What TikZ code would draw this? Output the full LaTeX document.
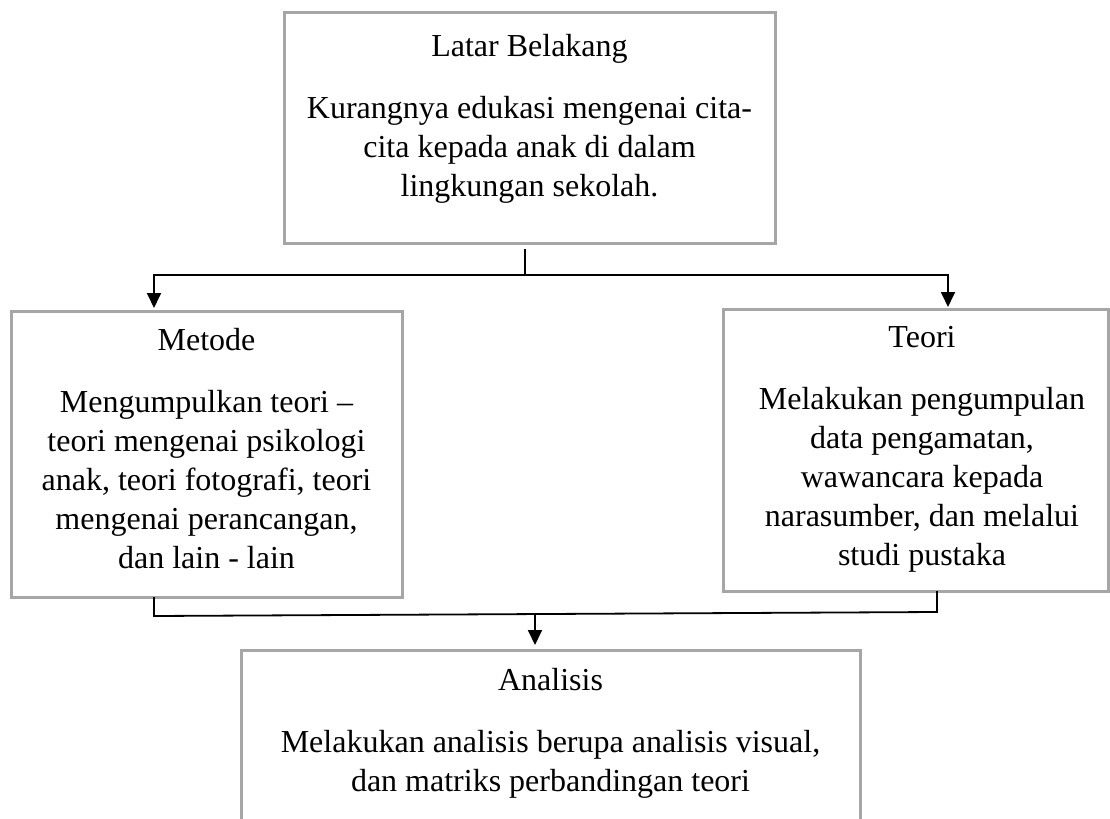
\documentclass[tikz,border=0pt]{standalone}
\usepackage{fontspec}
\setmainfont{Liberation Serif}
\usetikzlibrary{arrows.meta,calc,positioning}
\definecolor{boxgray}{HTML}{A6A6A6}
\tikzstyle{box} =[draw=boxgray, line width=1.5pt,
                  inner sep=0pt, outer sep=0pt]
\tikzstyle{txt} =[inner sep=0pt, align=center,
                  font=\fontsize{16pt}{19.5pt}\selectfont]
\tikzstyle{link}=[line width=0.9pt]
\tikzstyle{conn}=[link, -{Triangle[length=7.5pt,width=7pt]}]

\begin{document}
\begin{tikzpicture}[x=0.5pt, y=-0.5pt]
    \clip (0,0) rectangle (1110,819);
    % boxes
    \node[box, minimum width=245.5pt, minimum height=115.5pt] (latar)    at (529.5,127.5) {};
    \node[box, minimum width=195.5pt, minimum height=143pt]   (metode)   at (206.5,454) {};
    \node[box, minimum width=192.5pt, minimum height=141pt]   (teori)    at (915.5,450) {};
    \node[box, minimum width=309.5pt, minimum height=115pt]   (analisis) at (550.5,765) {};

    % texts
    \node[txt, below=11pt of latar.north] (latarText)
        {Latar Belakang\\[11.5pt]
         Kurangnya edukasi mengenai cita-\\
         cita kepada anak di dalam\\
         lingkungan sekolah.};
    \node[txt, below=8.5pt of metode.north] (metodeText)
        {Metode\\[11.5pt]
         Mengumpulkan teori –\\
         teori mengenai psikologi\\
         anak, teori fotografi, teori\\
         mengenai perancangan,\\
         dan lain - lain};
    \node[txt, below=8.5pt of teori.north, xshift=3.25pt] (teoriText)
        {Teori\\[11.5pt]
         Melakukan pengumpulan\\
         data pengamatan,\\
         wawancara kepada\\
         narasumber, dan melalui\\
         studi pustaka};
    \node[txt, below=9pt of analisis.north] (analisisText)
        {Analisis\\[11.5pt]
         Melakukan analisis berupa analisis visual,\\
         dan matriks perbandingan teori};

    % connectors
    \coordinate (split) at (525,275);
    \coordinate (join)  at (535,614);
    \draw[link, shorten <=3pt] (latar.south -| split) -- (split);
    \draw[conn, shorten >=1.5pt] (split) -| ($(metode.north)+(-52.5,0)$);
    \draw[conn, shorten >=1pt]   (split) -| ($(teori.north)+(32.5,0)$);
    \draw[link] ($(metode.south)+(-52.5,0)$) -- ++(0,19)
        -- ($(teori.south)+(21.5,21)$) -- ($(teori.south)+(21.5,0)$);
    \draw[conn, shorten >=2.5pt] (join) -- (analisis.north -| join);
\end{tikzpicture}
\end{document}
